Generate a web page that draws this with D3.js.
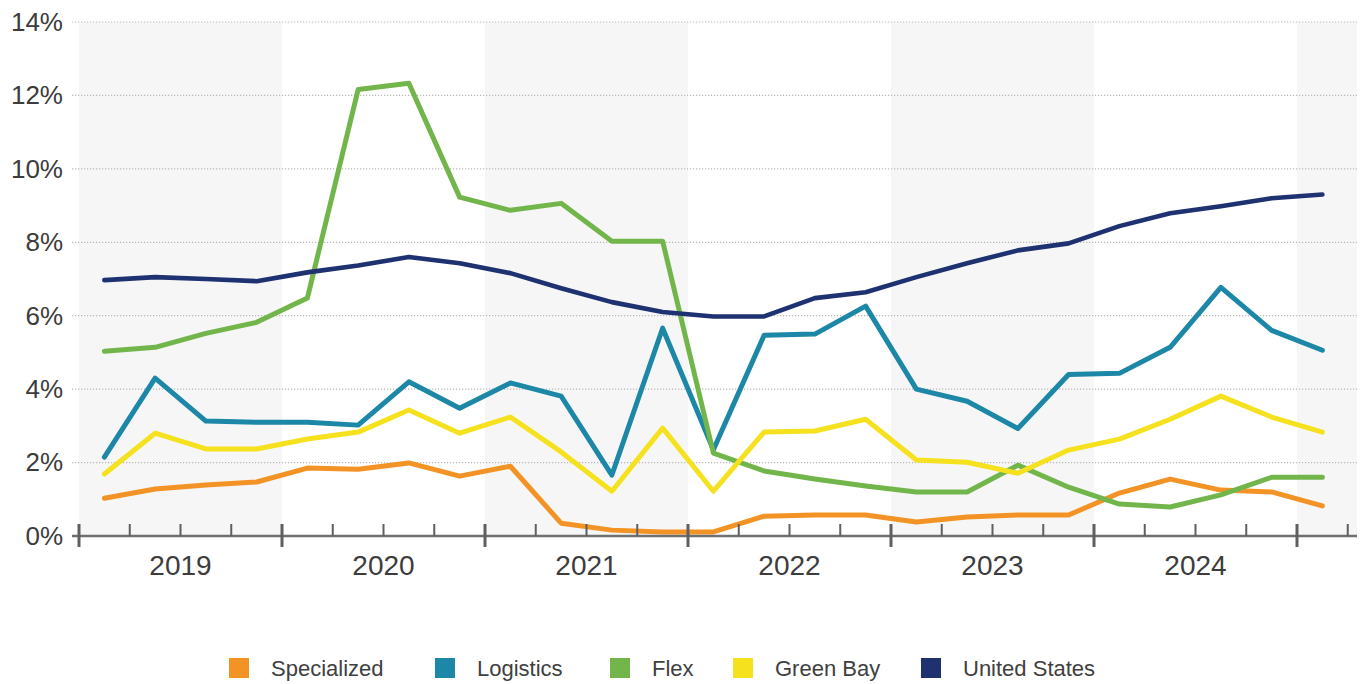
<!DOCTYPE html>
<html>
<head>
<meta charset="utf-8">
<script src="https://cdn.jsdelivr.net/npm/d3@7/dist/d3.min.js"></script>
<style>
  html, body { margin: 0; padding: 0; background: #ffffff; }
  svg { display: block; font-family: "Liberation Sans", Arial, sans-serif; }
</style>
</head>
<body>
<svg id="chart" width="1367" height="684"></svg>
<script>
// ---- data ----
const years = ["2019", "2020", "2021", "2022", "2023", "2024", "2025"];
const quarters = d3.range(25); // 2019 Q1 .. 2025 Q1
const yTicks = [0, 2, 4, 6, 8, 10, 12, 14];
const seriesNames = ["Specialized", "Logistics", "Flex", "Green Bay", "United States"];
const seriesColors = ["#F39325", "#1C87A6", "#72B64B", "#F5E11E", "#1E3170"];

const specialized = [1.03, 1.28, 1.39, 1.47, 1.85, 1.82, 1.99, 1.63, 1.90, 0.35, 0.16, 0.11, 0.11, 0.54, 0.57, 0.57, 0.38, 0.52, 0.57, 0.57, 1.17, 1.55, 1.25, 1.20, 0.82];
const logistics   = [2.15, 4.30, 3.13, 3.10, 3.10, 3.02, 4.20, 3.48, 4.17, 3.81, 1.66, 5.66, 2.35, 5.47, 5.50, 6.26, 4.00, 3.67, 2.93, 4.40, 4.43, 5.14, 6.77, 5.60, 5.06];
const flex        = [5.03, 5.14, 5.52, 5.82, 6.48, 12.16, 12.33, 9.23, 8.87, 9.06, 8.03, 8.03, 2.26, 1.77, 1.55, 1.36, 1.20, 1.20, 1.93, 1.33, 0.87, 0.79, 1.12, 1.60, 1.60];
const greenBay    = [1.69, 2.80, 2.37, 2.37, 2.64, 2.83, 3.43, 2.80, 3.24, 2.29, 1.22, 2.94, 1.22, 2.83, 2.86, 3.18, 2.07, 2.01, 1.71, 2.34, 2.64, 3.18, 3.81, 3.24, 2.83];
const unitedStates= [6.97, 7.05, 7.00, 6.94, 7.18, 7.37, 7.60, 7.43, 7.16, 6.75, 6.37, 6.10, 5.98, 5.98, 6.48, 6.64, 7.05, 7.43, 7.78, 7.97, 8.44, 8.79, 8.98, 9.20, 9.30];
const seriesValues = [specialized, logistics, flex, greenBay, unitedStates];

// ---- layout ----
const legendX = [229, 435, 610, 733, 921];
const svg = d3.select("#chart");
const x = d3.scaleLinear().domain([0, 25]).range([79, 1347.75]);
const y = d3.scaleLinear().domain([0, 14]).range([536, 22]);
const axisLeft = 72, axisRight = 1357;

// alternating year bands
const bands = svg.append("g");
years.forEach((yr, i) => {
  if (i % 2 === 0) {
    const x0 = x(i * 4);
    const x1 = Math.min(x(i * 4 + 4), axisRight);
    bands.append("rect")
      .attr("x", x0).attr("y", y(14))
      .attr("width", x1 - x0).attr("height", y(0) - y(14))
      .attr("fill", "#f6f6f6");
  }
});

// gridlines
const grid = svg.append("g");
yTicks.forEach(t => {
  if (t === 0) return;
  grid.append("line")
    .attr("x1", axisLeft).attr("x2", axisRight)
    .attr("y1", y(t)).attr("y2", y(t))
    .attr("stroke", "#b8b8b8").attr("stroke-width", 1.2)
    .attr("stroke-dasharray", "1.2,1.8");
});

// y labels
svg.append("g").selectAll("text").data(yTicks).join("text")
  .attr("x", 63).attr("y", d => y(d))
  .attr("dy", "0.34em")
  .attr("text-anchor", "end")
  .attr("font-size", 26)
  .attr("fill", "#3c3c3c")
  .text(d => d + "%");

// lines
const line = d3.line().x((d, i) => x(i + 0.5)).y(d => y(d));
const lines = svg.append("g");
seriesValues.forEach((vals, k) => {
  lines.append("path")
    .datum(vals)
    .attr("d", line)
    .attr("fill", "none")
    .attr("stroke", seriesColors[k])
    .attr("stroke-width", k === 4 ? 4.6 : 5)
    .attr("stroke-linejoin", "round")
    .attr("stroke-linecap", "round");
});

// x axis
const ax = svg.append("g");
ax.append("line")
  .attr("x1", axisLeft).attr("x2", axisRight)
  .attr("y1", y(0)).attr("y2", y(0))
  .attr("stroke", "#6f6f6f").attr("stroke-width", 2.5);
d3.range(26).forEach(q => {
  const major = q % 4 === 0;
  ax.append("line")
    .attr("x1", x(q)).attr("x2", x(q))
    .attr("y1", 524).attr("y2", major ? 547 : 536)
    .attr("stroke", "#5f5f5f").attr("stroke-width", major ? 3 : 2);
});
years.slice(0, 6).forEach((yr, i) => {
  ax.append("text")
    .attr("x", (x(i * 4) + x(i * 4 + 4)) / 2)
    .attr("y", 575)
    .attr("text-anchor", "middle")
    .attr("font-size", 28)
    .attr("fill", "#3c3c3c")
    .text(yr);
});

// legend
const legend = svg.append("g");
seriesNames.forEach((name, k) => {
  const lx = legendX[k];
  legend.append("rect")
    .attr("x", lx).attr("y", 658)
    .attr("width", 20).attr("height", 20)
    .attr("fill", seriesColors[k]);
  legend.append("text")
    .attr("x", lx + 42).attr("y", 676)
    .attr("font-size", 22)
    .attr("fill", "#404040")
    .attr("textLength", null)
    .text(name);
});
</script>
</body>
</html>
